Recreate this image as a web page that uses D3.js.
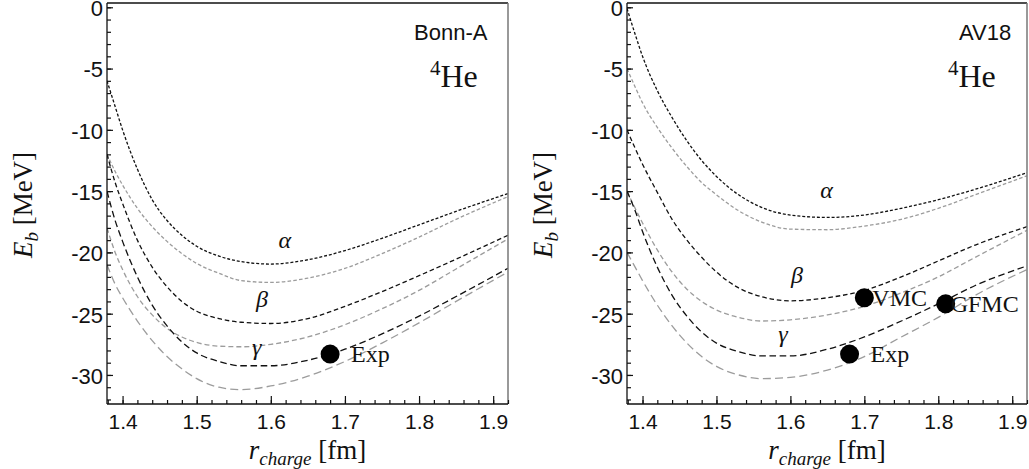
<!DOCTYPE html>
<html>
<head>
<meta charset="utf-8">
<script src="https://cdn.jsdelivr.net/npm/d3@7"></script>
<style>
body { margin: 0; background: #fff; }
.tick-lab { font-family: "Liberation Sans", Arial, sans-serif; font-size: 21px; fill: #111; }
.serif { font-family: "Liberation Serif", "Times New Roman", serif; fill: #111; }
</style>
</head>
<body>
<div id="chart"></div>
<script>
var rGrid = [1.379, 1.39, 1.40, 1.42, 1.44, 1.46, 1.48, 1.50, 1.53, 1.56, 1.60, 1.65, 1.70, 1.75, 1.80, 1.85, 1.92];

// Bonn-A
var bonnAlphaBlack = [-6.0, -8.1, -10.0, -13.2, -15.7, -17.4, -18.6, -19.5, -20.3, -20.75, -20.95, -20.6, -19.85, -18.85, -17.75, -16.65, -15.2];
var bonnAlphaGray  = [-12.0, -13.4, -14.5, -16.4, -17.9, -19.1, -20.1, -20.9, -21.7, -22.3, -22.45, -22.1, -21.3, -20.1, -18.75, -17.3, -15.45];
var bonnBetaBlack  = [-12.0, -14.3, -16.0, -19.0, -21.2, -22.8, -24.0, -24.8, -25.4, -25.7, -25.8, -25.4, -24.4, -23.2, -21.9, -20.55, -18.6];
var bonnBetaGray   = [-18.0, -20.0, -21.4, -23.6, -25.1, -26.2, -26.9, -27.35, -27.65, -27.7, -27.5, -26.9, -25.9, -24.6, -23.1, -21.35, -18.9];
var bonnGammaBlack = [-15.0, -17.4, -19.1, -22.0, -24.3, -26.0, -27.3, -28.2, -28.9, -29.25, -29.25, -28.8, -27.9, -26.65, -25.2, -23.6, -21.3];
var bonnGammaGray  = [-21.0, -22.6, -23.7, -25.6, -27.2, -28.5, -29.5, -30.3, -31.0, -31.2, -30.9, -30.1, -28.9, -27.4, -25.75, -24.0, -21.6];

// AV18
var av18AlphaBlack = [-0.1, -2.2, -4.0, -6.8, -9.0, -10.9, -12.5, -13.8, -15.3, -16.3, -16.95, -17.15, -16.95, -16.4, -15.7, -14.85, -13.5];
var av18AlphaGray  = [-5.0, -6.5, -7.8, -9.8, -11.5, -13.0, -14.3, -15.3, -16.6, -17.5, -18.1, -18.15, -17.85, -17.3, -16.4, -15.3, -13.75];
var av18BetaBlack  = [-10.0, -11.5, -12.8, -15.1, -17.3, -19.0, -20.4, -21.6, -22.9, -23.6, -23.95, -23.7, -23.1, -22.0, -20.7, -19.4, -17.9];
var av18BetaGray   = [-15.0, -16.4, -17.6, -19.8, -21.6, -23.0, -24.0, -24.7, -25.3, -25.6, -25.5, -25.1, -24.4, -23.3, -22.0, -20.4, -18.2];
var av18GammaBlack = [-15.0, -16.6, -18.3, -21.2, -23.5, -25.2, -26.5, -27.4, -28.1, -28.45, -28.45, -27.9, -26.9, -25.6, -24.2, -22.7, -21.1];
var av18GammaGray  = [-20.0, -21.2, -22.3, -24.3, -26.0, -27.4, -28.5, -29.3, -30.0, -30.3, -30.2, -29.6, -28.5, -26.9, -25.3, -23.5, -21.4];

// data points
var bonnPointR = [1.68], bonnPointE = [-28.3], bonnPointName = ["Exp"];
var av18PointR = [1.70, 1.81, 1.68], av18PointE = [-23.7, -24.2, -28.3], av18PointName = ["VMC", "GFMC", "Exp"];

// curve labels (position in data coordinates)
var greekNames = ["α", "β", "γ"];
var bonnLabelR = [1.619, 1.588, 1.581], bonnLabelE = [-19.64, -24.45, -28.37];
var av18LabelR = [1.649, 1.609, 1.590], av18LabelE = [-15.56, -22.49, -27.31];

var xTicks = [1.4, 1.5, 1.6, 1.7, 1.8, 1.9];
var yTicks = [0, -5, -10, -15, -20, -25, -30];
var xDomain = [1.379, 1.92], yDomain = [0.35, -32.37];

var W = 1029, H = 469;
var svg = d3.select("#chart").append("svg").attr("width", W).attr("height", H);

var styles = [
  { color: "#111", dash: "3,1.9" },
  { color: "#9c9c9c", dash: "3.6,2.2" },
  { color: "#111", dash: "4.6,2.8" },
  { color: "#9c9c9c", dash: "5,3" },
  { color: "#111", dash: "6.6,3.6" },
  { color: "#9c9c9c", dash: "8,4.2" }
];

var panels = [
  { left: 107, right: 508, name: "Bonn-A", nameX: 414, heX: 430, ytX: 32,
    curves: [bonnAlphaBlack, bonnAlphaGray, bonnBetaBlack, bonnBetaGray, bonnGammaBlack, bonnGammaGray],
    pr: bonnPointR, pe: bonnPointE, pn: bonnPointName, pdx: [21],
    lr: bonnLabelR, le: bonnLabelE },
  { left: 627, right: 1027, name: "AV18", nameX: 959, heX: 948, ytX: 552,
    curves: [av18AlphaBlack, av18AlphaGray, av18BetaBlack, av18BetaGray, av18GammaBlack, av18GammaGray],
    pr: av18PointR, pe: av18PointE, pn: av18PointName, pdx: [8, 5, 21],
    lr: av18LabelR, le: av18LabelE }
];

var plotTop = 3, plotBottom = 404;

panels.forEach(function(p, pi) {
  var x = d3.scaleLinear().domain(xDomain).range([p.left, p.right]);
  var y = d3.scaleLinear().domain(yDomain).range([plotTop, plotBottom]);
  var g = svg.append("g");

  var clipId = "clip" + pi;
  svg.append("clipPath").attr("id", clipId).append("rect")
    .attr("x", p.left).attr("y", plotTop).attr("width", p.right - p.left).attr("height", plotBottom - plotTop);

  var line = d3.line()
    .x(function(d) { return x(d[0]); })
    .y(function(d) { return y(d[1]); })
    .curve(d3.curveMonotoneX);

  var cg = g.append("g").attr("clip-path", "url(#" + clipId + ")");
  [1, 3, 5, 0, 2, 4].forEach(function(ci) {
    var pts = rGrid.map(function(r, i) { return [r, p.curves[ci][i]]; });
    cg.append("path")
      .attr("d", line(pts))
      .attr("fill", "none")
      .attr("stroke", styles[ci].color)
      .attr("stroke-width", 1.3)
      .attr("stroke-dasharray", styles[ci].dash);
  });

  // frame
  g.append("line").attr("x1", p.left).attr("x2", p.right).attr("y1", plotTop).attr("y2", plotTop)
    .attr("stroke", "#111").attr("stroke-width", 1.3);
  g.append("line").attr("x1", p.right).attr("x2", p.right).attr("y1", plotTop).attr("y2", plotBottom)
    .attr("stroke", "#777").attr("stroke-width", 1.5);

  // axes
  var xMinor = d3.range(1.38, 1.921, 0.02);
  var yMinor = d3.range(0, -32.5, -1);

  var xAxis = g.append("g").attr("transform", "translate(0," + plotBottom + ")")
    .call(d3.axisBottom(x).tickValues(xMinor).tickSize(-4).tickFormat(""));
  xAxis.select(".domain").remove();
  var xAxisMaj = g.append("g").attr("transform", "translate(0," + plotBottom + ")")
    .call(d3.axisBottom(x).tickValues(xTicks).tickSize(-8).tickFormat(d3.format(".1f")));
  xAxisMaj.select(".domain").attr("d", "M" + p.left + ",0H" + p.right).attr("stroke", "#111").attr("stroke-width", 1.3);
  xAxisMaj.selectAll("text").attr("class", "tick-lab").attr("y", 10).attr("dy", "0.71em");

  var yAxis = g.append("g").attr("transform", "translate(" + p.left + ",0)")
    .call(d3.axisLeft(y).tickValues(yMinor).tickSize(-4).tickFormat(""));
  yAxis.select(".domain").remove();
  var yAxisMaj = g.append("g").attr("transform", "translate(" + p.left + ",0)")
    .call(d3.axisLeft(y).tickValues(yTicks).tickSize(-6).tickFormat(function(d) { return String(d); }));
  yAxisMaj.select(".domain").attr("d", "M0," + plotTop + "V" + plotBottom).attr("stroke", "#111").attr("stroke-width", 1.3);
  yAxisMaj.selectAll("text").attr("class", "tick-lab").attr("x", -4).attr("dy", "0.38em").attr("text-anchor", "end")
    .style("font-size", "22px");
  g.selectAll(".tick line").attr("stroke", "#111").attr("stroke-width", 1.2);

  // curve labels
  greekNames.forEach(function(n, i) {
    g.append("text").attr("class", "serif")
      .attr("x", x(p.lr[i])).attr("y", y(p.le[i]))
      .attr("text-anchor", "middle").attr("font-size", 24).attr("font-style", "italic")
      .text(n);
  });

  // points
  p.pr.forEach(function(r, i) {
    g.append("circle").attr("cx", x(r)).attr("cy", y(p.pe[i])).attr("r", 9.5).attr("fill", "#000");
    g.append("text").attr("class", "serif")
      .attr("x", x(r) + p.pdx[i]).attr("y", y(p.pe[i]) + 8)
      .attr("font-size", 24).text(p.pn[i]);
  });

  // panel annotations
  g.append("text").attr("class", "tick-lab").attr("x", p.nameX).attr("y", 40)
    .style("font-size", "22px").text(p.name);
  var he = g.append("text").attr("class", "serif").attr("x", p.heX).attr("y", 87).attr("font-size", 32);
  he.append("tspan").attr("font-size", 21).attr("dy", -12).text("4");
  he.append("tspan").attr("dy", 12).text("He");

  // axis titles
  var yt = g.append("text").attr("class", "serif").attr("font-size", 27)
    .attr("transform", "translate(" + p.ytX + ",205) rotate(-90)").attr("text-anchor", "middle");
  yt.append("tspan").attr("font-style", "italic").text("E");
  yt.append("tspan").attr("font-style", "italic").attr("font-size", 19).attr("dy", 6).text("b");
  yt.append("tspan").attr("dy", -6).text(" [MeV]");

  var xt = g.append("text").attr("class", "serif").attr("font-size", 27)
    .attr("x", (p.left + p.right) / 2).attr("y", 459).attr("text-anchor", "middle");
  xt.append("tspan").attr("font-style", "italic").text("r");
  xt.append("tspan").attr("font-style", "italic").attr("font-size", 19).attr("dy", 6).text("charge");
  xt.append("tspan").attr("dy", -6).text(" [fm]");
});
</script>
</body>
</html>
